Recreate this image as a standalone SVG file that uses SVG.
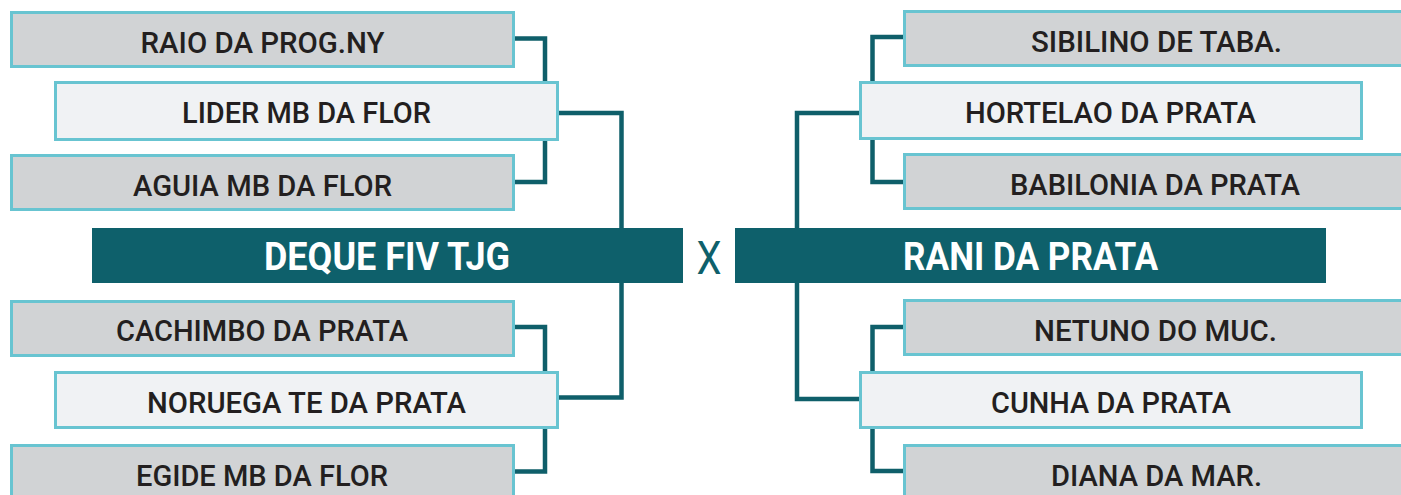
<svg xmlns="http://www.w3.org/2000/svg" width="1401" height="495" viewBox="0 0 1401 495">
<style>
.g{fill:#d1d3d5;stroke:#68c4d1;stroke-width:3}
.l{fill:#f0f2f4;stroke:#68c4d1;stroke-width:3}
.d{fill:#0e606b}
.t{font-family:Roboto,"Liberation Sans",sans-serif;font-weight:500;font-size:30px;fill:#231f20;text-anchor:middle}
.b{font-family:Roboto,"Liberation Sans",sans-serif;font-weight:700;font-size:38px;fill:#ffffff;text-anchor:middle}
.c{fill:none;stroke:#0f5f6a;stroke-width:4.5;stroke-linejoin:miter}
</style>
<rect width="1401" height="495" fill="#ffffff"/>
<g id="connectors">
<path class="c" d="M515 38.5H545V82"/>
<path class="c" d="M545 140V182H515"/>
<path class="c" d="M559 113H621.5V397.5H559"/>
<path class="c" d="M515 327H545V372"/>
<path class="c" d="M545 428V471.5H515"/>
<path class="c" d="M903 37H872.5V82"/>
<path class="c" d="M872.5 139V182H903"/>
<path class="c" d="M859 113H797V399H859"/>
<path class="c" d="M903 327H872.5V372"/>
<path class="c" d="M872.5 428V471H903"/>
</g>
<g id="raio"><rect class="g" x="11.5" y="12.5" width="502" height="54"/><text class="t" x="262.5" y="53" textLength="244" lengthAdjust="spacingAndGlyphs">RAIO DA PROG.NY</text></g>
<g id="lider"><rect class="l" x="55.5" y="82.5" width="502" height="57"/><text class="t" x="306.5" y="123" textLength="249" lengthAdjust="spacingAndGlyphs">LIDER MB DA FLOR</text></g>
<g id="aguia"><rect class="g" x="11.5" y="155.5" width="502" height="54"/><text class="t" x="262.5" y="196" textLength="259" lengthAdjust="spacingAndGlyphs">AGUIA MB DA FLOR</text></g>
<g id="deque"><rect class="d" x="92" y="228" width="591" height="55"/><text class="b" x="387" y="270" textLength="246" lengthAdjust="spacingAndGlyphs">DEQUE FIV TJG</text></g>
<g id="versus"><text x="709" y="274" font-family="Roboto,'Liberation Sans',sans-serif" font-size="46" fill="#0e606b" text-anchor="middle" textLength="25" lengthAdjust="spacingAndGlyphs">X</text></g>
<g id="rani"><rect class="d" x="735" y="228" width="591" height="55"/><text class="b" x="1030.5" y="270" textLength="255" lengthAdjust="spacingAndGlyphs">RANI DA PRATA</text></g>
<g id="cachimbo"><rect class="g" x="11.5" y="301.5" width="502" height="54"/><text class="t" x="262" y="341" textLength="292" lengthAdjust="spacingAndGlyphs">CACHIMBO DA PRATA</text></g>
<g id="noruega"><rect class="l" x="55.5" y="372.5" width="502" height="55"/><text class="t" x="306.5" y="413" textLength="319" lengthAdjust="spacingAndGlyphs">NORUEGA TE DA PRATA</text></g>
<g id="egide"><rect class="g" x="11.5" y="445.5" width="502" height="54"/><text class="t" x="262" y="486" textLength="252" lengthAdjust="spacingAndGlyphs">EGIDE MB DA FLOR</text></g>
<g id="sibilino"><rect class="g" x="904.5" y="11.5" width="502" height="54"/><text class="t" x="1156.5" y="52" textLength="251" lengthAdjust="spacingAndGlyphs">SIBILINO DE TABA.</text></g>
<g id="hortelao"><rect class="l" x="860.5" y="82.5" width="501" height="56"/><text class="t" x="1110.5" y="123" textLength="291" lengthAdjust="spacingAndGlyphs">HORTELAO DA PRATA</text></g>
<g id="babilonia"><rect class="g" x="904.5" y="154.5" width="502" height="54"/><text class="t" x="1155" y="195" textLength="290" lengthAdjust="spacingAndGlyphs">BABILONIA DA PRATA</text></g>
<g id="netuno"><rect class="g" x="904.5" y="300.5" width="502" height="54"/><text class="t" x="1155.5" y="341" textLength="243" lengthAdjust="spacingAndGlyphs">NETUNO DO MUC.</text></g>
<g id="cunha"><rect class="l" x="860.5" y="372.5" width="501" height="55"/><text class="t" x="1111" y="413" textLength="240" lengthAdjust="spacingAndGlyphs">CUNHA DA PRATA</text></g>
<g id="diana"><rect class="g" x="904.5" y="445.5" width="502" height="54"/><text class="t" x="1156.5" y="486" textLength="211" lengthAdjust="spacingAndGlyphs">DIANA DA MAR.</text></g>
</svg>
